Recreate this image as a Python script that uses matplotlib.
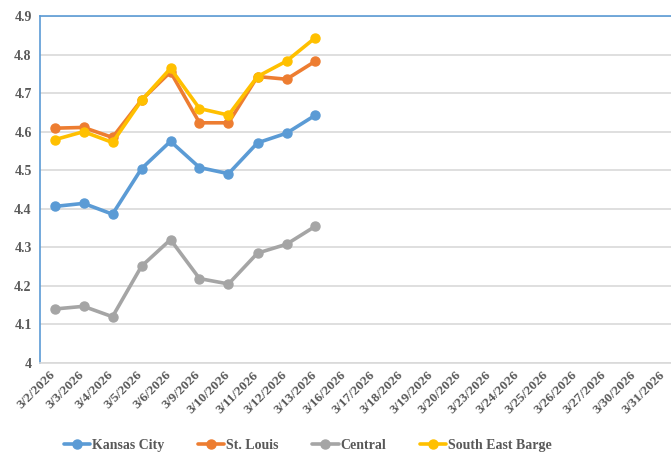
import numpy as np
import matplotlib
matplotlib.use("Agg")
import matplotlib.pyplot as plt
import matplotlib.transforms as mtransforms

dates = ["3/2/2026", "3/3/2026", "3/4/2026", "3/5/2026", "3/6/2026", "3/9/2026",
         "3/10/2026", "3/11/2026", "3/12/2026", "3/13/2026", "3/16/2026", "3/17/2026",
         "3/18/2026", "3/19/2026", "3/20/2026", "3/23/2026", "3/24/2026", "3/25/2026",
         "3/26/2026", "3/27/2026", "3/30/2026", "3/31/2026"]

kansas_city = [4.406, 4.414, 4.386, 4.504, 4.575, 4.507, 4.491, 4.571, 4.596, 4.643]
st_louis = [4.609, 4.611, 4.585, 4.682, 4.755, 4.623, 4.623, 4.743, 4.736, 4.783]
central = [4.140, 4.147, 4.120, 4.251, 4.320, 4.219, 4.205, 4.285, 4.308, 4.355]
south_east_barge = [4.579, 4.600, 4.572, 4.681, 4.764, 4.660, 4.643, 4.743, 4.783, 4.844]

series = [("Kansas City", kansas_city, "#5B9BD5"),
          ("St. Louis", st_louis, "#ED7D31"),
          ("Central", central, "#A5A5A5"),
          ("South East Barge", south_east_barge, "#FFC000")]

plt.rcParams['font.family'] = ['Liberation Serif', 'DejaVu Serif']
txt = "#595959"

fig = plt.figure(figsize=(6.71, 4.73), dpi=100)
ax = fig.add_axes([40/671, 110/473, 638/671, 347/473])

x = np.arange(len(dates))
for name, vals, c in series:
    ax.plot(x[:len(vals)], vals, color=c, lw=2.6, marker="o", ms=6.5,
            label=name, solid_capstyle="round", solid_joinstyle="round")

ax.set_xlim(-0.5, len(dates) - 0.5)
ax.set_ylim(4.0, 4.9)
ax.set_yticks(np.arange(4.0, 4.91, 0.1))
ax.set_yticklabels(["4"] + ["%.1f" % v for v in np.arange(4.1, 4.91, 0.1)],
                   fontsize=10, fontweight="bold", color=txt)
ax.set_xticks(x)
ax.tick_params(length=0, pad=6)
ax.tick_params(axis="y", pad=6)

# date labels drawn as rotated texts, nudged a bit left of each category
shift = mtransforms.ScaledTranslation(-5/100, -6/100, fig.dpi_scale_trans)
ax.set_xticklabels([])
for xi, d in zip(x, dates):
    ax.text(xi, 0, d, transform=ax.get_xaxis_transform() + shift,
            rotation=45, ha="right", va="top", rotation_mode="anchor",
            fontsize=9.7, fontweight="bold", color=txt)

ax.grid(axis="y", color="#D9D9D9", lw=1.2)
ax.set_axisbelow(True)
ax.spines["right"].set_visible(False)
ax.spines["left"].set_color("#5B9BD5")
ax.spines["top"].set_color("#5B9BD5")
ax.spines["left"].set_linewidth(1.2)
ax.spines["top"].set_linewidth(1.2)
ax.spines["bottom"].set_color("#D9D9D9")
ax.spines["bottom"].set_linewidth(1.2)

leg = fig.legend(loc="center", bbox_to_anchor=(308/671, 1 - 445/473), ncol=4,
                 frameon=False, handlelength=1.9, columnspacing=2.4, handletextpad=0.15,
                 prop={"size": 10, "weight": "bold"})
for t in leg.get_texts():
    t.set_color(txt)

fig.savefig("out.png", dpi=100)
